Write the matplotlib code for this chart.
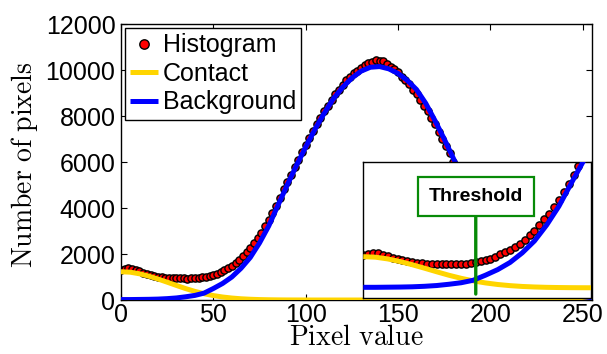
import numpy as np
import matplotlib
matplotlib.use("Agg")
import matplotlib.pyplot as plt

plt.rcParams["font.family"] = ["Liberation Sans", "DejaVu Sans"]
plt.rcParams["mathtext.fontset"] = "cm"

# histogram counts, every second pixel value (0, 2, ..., 254)
HIST_X = np.arange(0, 256, 2)
HIST_Y = [
    1300, 1340, 1380, 1370, 1310, 1240, 1180, 1130, 1090, 1050,
    1010, 990, 975, 960, 950, 955, 940, 945, 930, 950,
    960, 955, 980, 1000, 1040, 1090, 1150, 1230, 1320, 1400,
    1500, 1620, 1750, 1900, 2080, 2260, 2480, 2700, 2930, 3200,
    3470, 3780, 4100, 4450, 4820, 5150, 5450, 5800, 6100, 6420,
    6750, 7050, 7350, 7650, 7900, 8200, 8450, 8700, 8950, 9150,
    9350, 9550, 9700, 9850, 9950, 10100, 10200, 10300, 10350, 10450,
    10380, 10400, 10250, 10150, 10050, 9900, 9700, 9550, 9400, 9150,
    8950, 8700, 8450, 8200, 7900, 7650, 7300, 7000, 6700, 6400,
    6000, 5750, 5400, 5100, 4800, 4500, 4200, 3900, 3600, 3300,
    3050, 2800, 2550, 2350, 2150, 1950, 1780, 1600, 1450, 1300,
    1150, 1040, 920, 820, 720, 640, 560, 490, 430, 380,
    330, 290, 250, 220, 190, 170, 150, 130,
]

# fitted curves, every fifth pixel value (0, 5, ..., 255)
CURVE_X = np.arange(0, 256, 5)
CONTACT = [
    1230, 1210, 1141, 1039, 913, 776, 634, 497, 376, 274,
    193, 131, 86, 54, 33, 19, 11, 6, 3, 2,
    1, 0, 0, 0, 0, 0, 0, 0, 0, 0,
    0, 0, 0, 0, 0, 0, 0, 0, 0, 0,
    0, 0, 0, 0, 0, 0, 0, 0, 0, 0,
    0, 0,
]
BACKGROUND = [
    20, 20, 25, 30, 40, 60, 90, 140, 200, 300,
    500, 720, 1000, 1380, 1850, 2480, 3220, 4120, 5000, 5850,
    6650, 7420, 8120, 8750, 9250, 9650, 9950, 10120, 10150, 10050,
    9850, 9550, 9150, 8550, 7800, 7000, 6150, 5300, 4500, 3750,
    3050, 2450, 1950, 1500, 1150, 850, 620, 450, 320, 220,
    150, 100,
]
THRESHOLD = 46

YELLOW = "#FFD500"
BLUE = "#0000FF"
GREEN = "#078a07"

fig = plt.figure(figsize=(6.07, 3.54), dpi=100)
ax = fig.add_axes([0.1993, 0.1525, 0.7760, 0.7797])


def draw(a):
    a.plot(HIST_X, HIST_Y, "o", mfc="red", mec="black", ms=5.2, mew=1.0,
           label="Histogram", zorder=2)
    a.plot(CURVE_X, CONTACT, color=YELLOW, lw=3.6, label="Contact",
           solid_capstyle="butt", zorder=3)
    a.plot(CURVE_X, BACKGROUND, color=BLUE, lw=3.6, label="Background",
           solid_capstyle="butt", zorder=3)


draw(ax)
ax.set_xlim(0, 255)
ax.set_ylim(0, 12000)
ax.set_xticks(range(0, 251, 50))
ax.set_yticks(range(0, 12001, 2000))
ax.tick_params(direction="in", top=True, right=True, length=4, width=0.8,
               labelsize=18)
ax.tick_params(axis="x", pad=2)
ax.tick_params(axis="y", pad=4)
for s in ax.spines.values():
    s.set_linewidth(1.0)

ax.set_xlabel(r"$\mathrm{Pixel\ value}$", fontsize=20)
ax.set_ylabel(r"$\mathrm{Number\ of\ pixels}$", fontsize=20)
ax.xaxis.set_label_coords(0.5, -0.092)
ax.yaxis.set_label_coords(-0.172, 0.49)

leg = ax.legend(loc="upper left", fontsize=18, frameon=True, fancybox=False,
                framealpha=1, edgecolor="black", handlelength=1.1,
                handletextpad=0.2, labelspacing=0.18, borderpad=0.22,
                borderaxespad=0.15, markerscale=1.3)
leg.get_frame().set_linewidth(1.0)

# inset: zoom on the low-count region
ax_in = fig.add_axes([0.5985, 0.159, 0.3746, 0.3842])
draw(ax_in)
ax_in.set_xlim(0, 93)
ax_in.set_ylim(-391, 4981)
ax_in.set_xticks([])
ax_in.set_yticks([])
for s in ax_in.spines.values():
    s.set_linewidth(1.0)

ax_in.annotate("Threshold",
               xy=(THRESHOLD, 0.027), xycoords=("data", "axes fraction"),
               xytext=(THRESHOLD, 0.745), textcoords=("data", "axes fraction"),
               ha="center", va="center", fontsize=14, fontweight="bold",
               bbox=dict(boxstyle="square,pad=0.55", fc="white", ec=GREEN, lw=1.6),
               arrowprops=dict(arrowstyle="-", color=GREEN, lw=2.4,
                               shrinkA=0, shrinkB=0),
               zorder=5)

fig.savefig("out.png", dpi=100)
